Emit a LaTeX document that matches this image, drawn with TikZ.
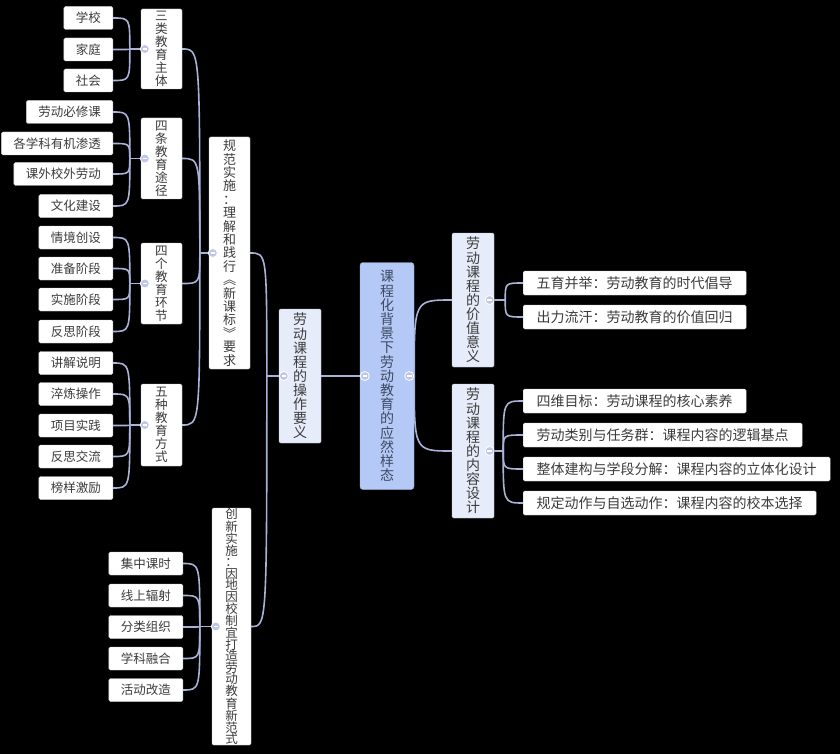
\documentclass[tikz,border=0pt]{standalone}
\usepackage{fontspec}
\setmainfont{Noto Sans CJK SC}
\definecolor{linkc}{HTML}{A9B3D8}
\definecolor{knobfill}{HTML}{BFC7E4}
\definecolor{rootfill}{HTML}{B4C9F5}
\definecolor{rootline}{HTML}{9DB1DF}
\definecolor{roottext}{HTML}{3F4A63}
\definecolor{topicfill}{HTML}{E6ECFA}
\definecolor{boxline}{HTML}{C6CAD4}
\definecolor{txt}{HTML}{3C3C3C}
\pgfdeclarelayer{canvas}
\pgfdeclarelayer{links}
\pgfsetlayers{canvas,links,main}

\begin{document}
\begin{tikzpicture}[x=1pt, y=1pt,
    every node/.style={text=txt},
    root/.style={rectangle, rounded corners=3pt, draw=rootline, fill=rootfill, text=roottext, align=center, inner sep=0pt, minimum width=54pt, minimum height=227pt, font=\fontsize{14}{14.2}\selectfont},
    topic/.style={rectangle, rounded corners=1.5pt, draw=boxline, fill=topicfill, align=center, inner sep=0pt, minimum width=42pt, minimum height=134pt, font=\fontsize{14}{14.1}\selectfont},
    branch/.style={rectangle, rounded corners=1.5pt, draw=boxline, fill=white, align=center, inner sep=0pt, minimum width=41pt, font=\fontsize{12.6}{13}\selectfont},
    leaf/.style={rectangle, rounded corners=1.5pt, draw=boxline, fill=white, inner xsep=12pt, inner ysep=0pt, minimum height=23pt, font=\fontsize{12.5}{13}\selectfont},
    item/.style={leaf, inner xsep=13.5pt, minimum height=24pt, font=\fontsize{14}{15}\selectfont},
    knob/.style={circle, draw=white, line width=0.8pt, fill=knobfill, inner sep=0pt, minimum size=9pt,
      path picture={\draw[white, line width=1.2pt] ([xshift=-2.3pt]path picture bounding box.center) -- ([xshift=2.3pt]path picture bounding box.center);}},
    link/.style={draw=linkc, line width=1.6pt},
    elbow/.style={to path={.. controls (\tikztostart |- \tikztotarget) .. (\tikztotarget)}}]

  \begin{pgfonlayer}{canvas}
    \fill[black] (0,0) rectangle (840,-754);
  \end{pgfonlayer}
  \useasboundingbox (0,0) rectangle (840,-754);

  % centre and first level
  \node[root] (root) at (387,-376) {课\\程\\化\\背\\景\\下\\劳\\动\\教\\育\\的\\应\\然\\样\\态};
  \node[topic] (oper) at (300,-376) {劳\\动\\课\\程\\的\\操\\作\\要\\义};
  \node[topic] (value) at (473,-300) {劳\\动\\课\\程\\的\\价\\值\\意\\义};
  \node[topic] (design) at (473,-451) {劳\\动\\课\\程\\的\\内\\容\\设\\计};

  % right side
  \node[item, anchor=west] (value-1) at (523,-283) {五育并举：劳动教育的时代倡导};
  \node[item, anchor=west] (value-2) at (523,-317) {出力流汗：劳动教育的价值回归};
  \node[item, anchor=west] (design-1) at (523,-401) {四维目标：劳动课程的核心素养};
  \node[item, anchor=west] (design-2) at (523,-435) {劳动类别与任务群：课程内容的逻辑基点};
  \node[item, anchor=west] (design-3) at (523,-469) {整体建构与学段分解：课程内容的立体化设计};
  \node[item, anchor=west] (design-4) at (523,-503) {规定动作与自选动作：课程内容的校本选择};

  % left side
  \node[branch, minimum height=232pt, font=\fontsize{13}{13.4}\selectfont] (norm) at (229.5,-253) {规\\范\\实\\施\\：\\理\\解\\和\\践\\行\\︽\\新\\课\\标\\︾\\要\\求};
  \node[branch, minimum width=39pt, minimum height=237pt, font=\fontsize{12.5}{11.5}\selectfont] (innov) at (231.5,-626.5) {创\\新\\实\\施\\：\\因\\地\\因\\校\\制\\宜\\打\\造\\劳\\动\\教\\育\\新\\范\\式};

  \node[branch, minimum height=80pt] (body) at (161.5,-49) {三\\类\\教\\育\\主\\体};
  \node[branch, minimum height=81pt] (route) at (161.5,-158.5) {四\\条\\教\\育\\途\\径};
  \node[branch, minimum height=81pt] (stage) at (161.5,-283.5) {四\\个\\教\\育\\环\\节};
  \node[branch, minimum height=82pt] (manner) at (161.5,-425) {五\\种\\教\\育\\方\\式};

  \foreach \t/\y [count=\i] in {学校/18, 家庭/49.5, 社会/80.5}
    \node[leaf, anchor=east] (body-\i) at (113,-\y) {\t};
  \foreach \t/\y [count=\i] in {劳动必修课/112, 各学科有机渗透/143.5, 课外校外劳动/174, 文化建设/206}
    \node[leaf, anchor=east] (route-\i) at (113,-\y) {\t};
  \foreach \t/\y [count=\i] in {情境创设/237.5, 准备阶段/268.5, 实施阶段/299.5, 反思阶段/331.5}
    \node[leaf, anchor=east] (stage-\i) at (113,-\y) {\t};
  \foreach \t/\y [count=\i] in {讲解说明/363, 淬炼操作/394, 项目实践/425.5, 反思交流/456.5, 榜样激励/488}
    \node[leaf, anchor=east] (manner-\i) at (113,-\y) {\t};
  \foreach \t/\y [count=\i] in {集中课时/563.5, 线上辐射/595.5, 分类组织/627, 学科融合/658.5, 活动改造/690}
    \node[leaf, anchor=east] (innov-\i) at (183,-\y) {\t};

  % collapse knobs
  \node[knob] (kroot-l) at ([xshift=5pt]root.west) {};
  \node[knob] (kroot-r) at ([xshift=-5pt]root.east) {};
  \node[knob] (koper) at ([xshift=5pt]oper.west) {};
  \node[knob] (kvalue) at ([xshift=-4.5pt]value.east) {};
  \node[knob] (kdesign) at ([xshift=-4.5pt]design.east) {};
  \node[knob] (knorm) at ([xshift=4pt]norm.west) {};
  \node[knob] (kinnov) at ([xshift=4pt]innov.west) {};
  \node[knob] (kbody) at ([xshift=4pt]body.west) {};
  \node[knob] (kroute) at ([xshift=4pt]route.west) {};
  \node[knob] (kstage) at ([xshift=4pt]stage.west) {};
  \node[knob] (kmanner) at ([xshift=4pt]manner.west) {};

  \coordinate (jroot) at (root.east);
  \coordinate (joper) at ([xshift=-12pt]oper.west);
  \coordinate (jvalue) at ([xshift=11pt]value.east);
  \coordinate (jdesign) at ([xshift=9pt]design.east);
  \coordinate (jnorm) at ([xshift=-9pt]norm.west);
  \coordinate (jinnov) at ([xshift=-12pt]innov.west);
  \coordinate (jbody) at ([xshift=-11pt]body.west);
  \coordinate (jroute) at ([xshift=-11pt]route.west);
  \coordinate (jstage) at ([xshift=-11pt]stage.west);
  \coordinate (jmanner) at ([xshift=-11pt]manner.west);

  \begin{pgfonlayer}{links}
    \draw[link] (kroot-l) -- (oper.east);
    \draw[link] (jroot) to[elbow] (value.west);
    \draw[link] (jroot) to[elbow] (design.west);

    \draw[link] (kvalue) -- (jvalue);
    \foreach \i in {1,2}
      \draw[link] (jvalue) to[elbow] (value-\i.west);
    \draw[link] (kdesign) -- (jdesign);
    \foreach \i in {1,...,4}
      \draw[link] (jdesign) to[elbow] (design-\i.west);

    \draw[link] (koper) -- (joper);
    \draw[link] (joper) to[elbow] (norm.east);
    \draw[link] (joper) to[elbow] (innov.east);

    \draw[link] (knorm) -- (jnorm);
    \foreach \b in {body, route, stage, manner}
      \draw[link] (jnorm) to[elbow] (\b.east);

    \draw[link] (kbody) -- (jbody);
    \foreach \i in {1,...,3}
      \draw[link] (jbody) to[elbow] (body-\i.east);
    \draw[link] (kroute) -- (jroute);
    \foreach \i in {1,...,4}
      \draw[link] (jroute) to[elbow] (route-\i.east);
    \draw[link] (kstage) -- (jstage);
    \foreach \i in {1,...,4}
      \draw[link] (jstage) to[elbow] (stage-\i.east);
    \draw[link] (kmanner) -- (jmanner);
    \foreach \i in {1,...,5}
      \draw[link] (jmanner) to[elbow] (manner-\i.east);

    \draw[link] (kinnov) -- (jinnov);
    \foreach \i in {1,...,5}
      \draw[link] (jinnov) to[elbow] (innov-\i.east);
  \end{pgfonlayer}
\end{tikzpicture}
\end{document}
